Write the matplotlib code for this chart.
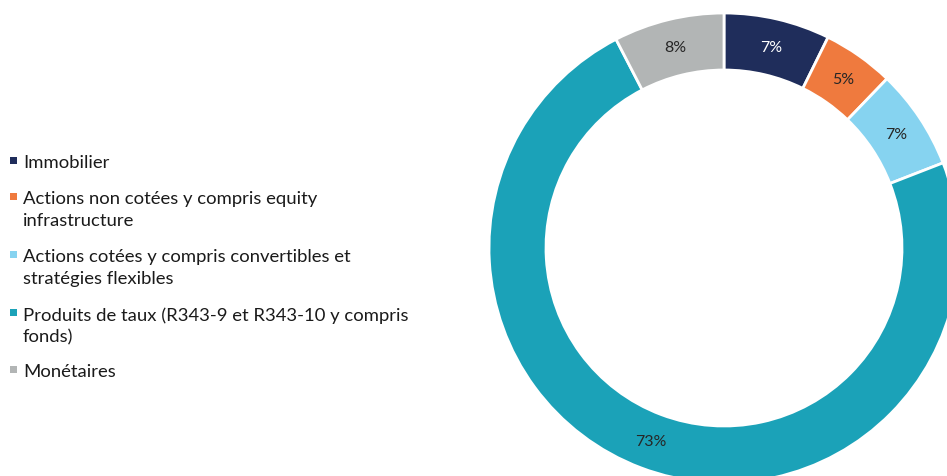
import matplotlib
matplotlib.use("Agg")
import matplotlib.pyplot as plt
from matplotlib.patches import Rectangle

# donut data, clockwise from 12 o'clock
labels = ["Immobilier",
          "Actions non cotées y compris equity\ninfrastructure",
          "Actions cotées y compris convertibles et\nstratégies flexibles",
          "Produits de taux (R343-9 et R343-10 y compris\nfonds)",
          "Monétaires"]
shares = [7.3, 4.9, 6.9, 73.3, 7.6]
colors = ["#1F2D5B", "#EF7A3E", "#86D3F0", "#1BA2B8", "#B2B5B5"]
pct_colors = ["white", "#262626", "#262626", "#262626", "#262626"]

W, H = 947, 477
fig = plt.figure(figsize=(W / 100, H / 100), dpi=100)
ax = fig.add_axes([0, 0, 1, 1])
plt.rcParams['font.family'] = ['Lato', 'DejaVu Sans']

cx, cy, R, ring = 724, H - 249, 235, 57   # pixel coords
wedges, texts, autotexts = ax.pie(shares, colors=colors, startangle=90, counterclock=False,
                                  center=(cx, cy), radius=R,
                                  autopct=lambda p: f"{p:.0f}%", pctdistance=(R - ring / 2) / R,
                                  wedgeprops=dict(width=ring, edgecolor="white", linewidth=2),
                                  textprops=dict(fontsize=11.5))
for t, c in zip(autotexts, pct_colors):
    t.set_color(c)

ax.set_xlim(0, W)
ax.set_ylim(0, H)
ax.set_aspect("auto")
ax.axis("off")

# legend drawn by hand; top of the first entry is cut off in the original
item_y = [161, 197, 255, 313, 370]
clip = Rectangle((0, 0), 450, H - 155, transform=ax.transData)
for i, (lab, c, y) in enumerate(zip(labels, colors, item_y)):
    ax.add_patch(Rectangle((10, H - y - 3.5), 7, 7, color=c, linewidth=0))
    t = ax.text(23, H - y + 6, lab, fontsize=13.3, color="#1a1a1a", va="top",
                linespacing=1.43, transform=ax.transData)
    if i == 0:
        t.set_clip_on(True)
        t.set_clip_path(clip)

fig.savefig("out.png", dpi=100)
